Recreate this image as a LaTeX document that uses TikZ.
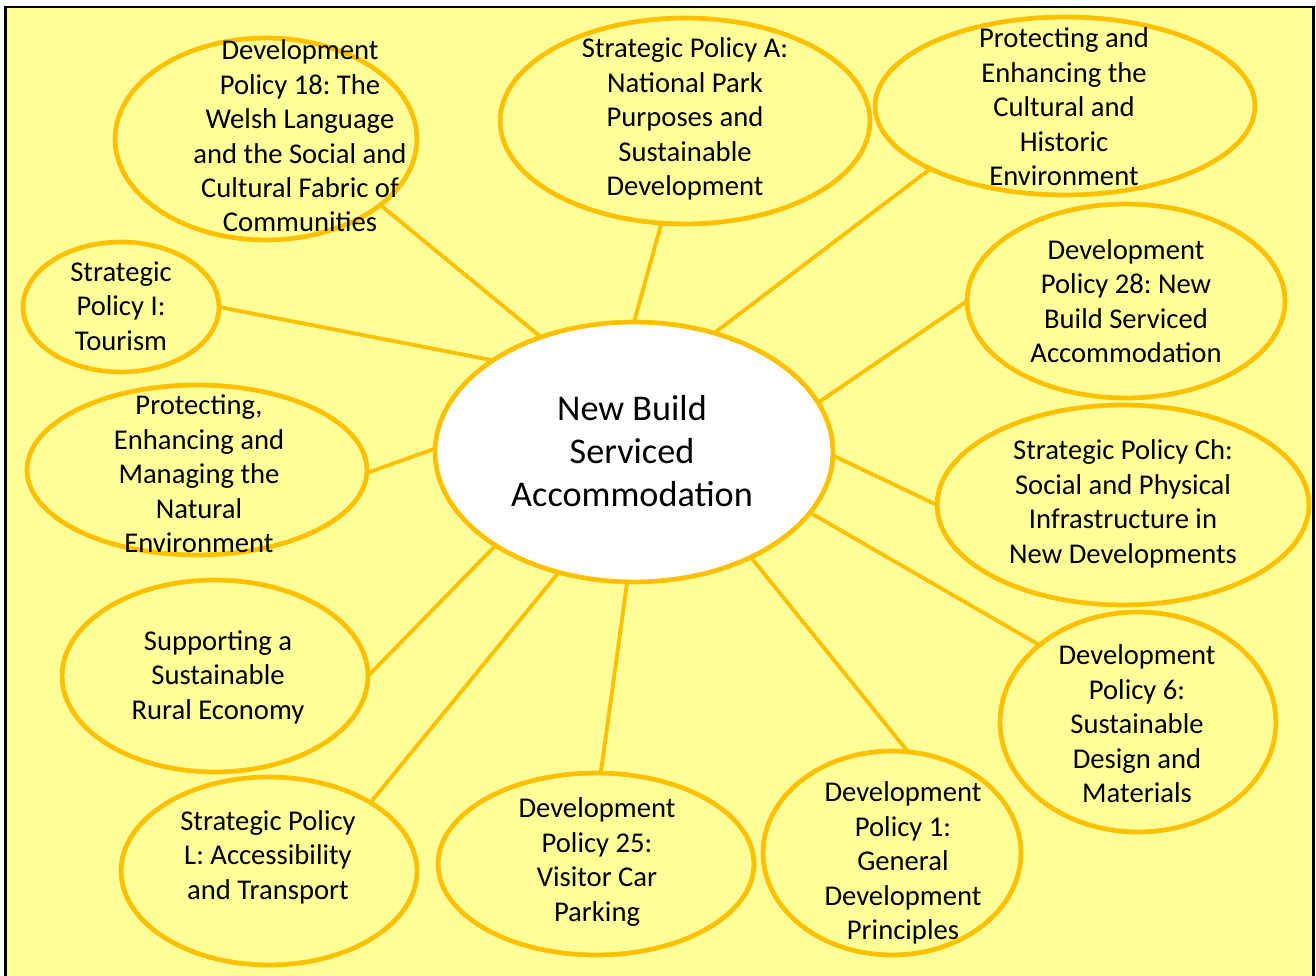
\documentclass[tikz,border=0pt]{standalone}
\usepackage{fontspec}
\setmainfont{Carlito}
\frenchspacing
\usetikzlibrary{shapes.geometric}
\definecolor{paper}{HTML}{FFFF99}
\definecolor{rim}{HTML}{FFC000}
\tikzset{
  bubble/.style={ellipse,draw=rim,line width=2.7pt,fill=paper,inner sep=0pt,outer sep=0pt},
  radii/.style 2 args={minimum width=#1*0.04cm,minimum height=#2*0.04cm},
  txt/.style={align=center,inner sep=0pt,font=\fontsize{16.3}{19.6}\selectfont},
  spoke/.style={draw=rim,line width=2.2pt},
}
\begin{document}
\begin{tikzpicture}[x=0.02cm,y=-0.02cm]
\useasboundingbox (0,0) rectangle (1316,976);
\fill[white] (0,0) rectangle (1316,976);
\filldraw[fill=paper,draw=black,line width=1.6pt] (5.5,7) rectangle (1313.5,1000);

% hub
\node[bubble,radii={199}{130},fill=white] (hub) at (634,452) {};
\node[txt,font=\fontsize{20.6}{24.6}\selectfont] (hubt) at (632,451) {New Build\\Serviced\\Accommodation};

% policies round the hub
\node[bubble,radii={151}{101}] (dp18) at (266,139) {};
\node[txt] (dp18t) at (300,136) {Development\\Policy 18: The\\Welsh Language\\and the Social and\\Cultural Fabric of\\Communities};

\node[bubble,radii={185}{103}] (spa) at (685,121) {};
\node[txt] (spat) at (685,119) {Strategic Policy A:\\National Park\\Purposes and\\Sustainable\\Development};

\node[bubble,radii={190}{89}] (heritage) at (1065,106) {};
\node[txt] (heritaget) at (1064,107) {Protecting and\\Enhancing the\\Cultural and\\Historic\\Environment};

\node[bubble,radii={98}{65}] (spi) at (121,307) {};
\node[txt] (spit) at (121,306) {Strategic\\Policy I:\\Tourism};

\node[bubble,radii={159}{97}] (dp28) at (1126,301) {};
\node[txt] (dp28t) at (1126,301) {Development\\Policy 28: New\\Build Serviced\\Accommodation};

\node[bubble,radii={170}{85}] (nature) at (197,470) {};
\node[txt] (naturet) at (199,474) {Protecting,\\Enhancing and\\Managing the\\Natural\\Environment};

\node[bubble,radii={186}{100}] (spch) at (1123,505) {};
\node[txt] (spcht) at (1123,504) {Strategic Policy Ch:\\Social and Physical\\Infrastructure in\\New Developments};

\node[bubble,radii={153}{96}] (rural) at (215,676) {};
\node[txt] (ruralt) at (218,677) {Supporting a\\Sustainable\\Rural Economy};

\node[bubble,radii={138}{110}] (dp6) at (1138,722) {};
\node[txt] (dp6t) at (1137,724) {Development\\Policy 6:\\Sustainable\\Design and\\Materials};

\node[bubble,radii={148}{94}] (spl) at (269,871) {};
\node[txt] (splt) at (268,857) {Strategic Policy\\L: Accessibility\\and Transport};

\node[bubble,radii={158}{91}] (dp25) at (596,864) {};
\node[txt] (dp25t) at (597,862) {Development\\Policy 25:\\Visitor Car\\Parking};

\node[bubble,radii={129}{102}] (dp1) at (892,853) {};
\node[txt] (dp1t) at (903,863) {Development\\Policy 1:\\General\\Development\\Principles};

% spokes
\draw[spoke] (hub.129) -- (dp18.-30);
\draw[spoke] (hub.90) -- (spa.-103);
\draw[spoke] (hub.56) -- (heritage.-155);
\draw[spoke] (hub.147) -- (spi.0);
\draw[spoke] (hub.15) -- (dp28.180);
\draw[spoke] (hub.179) -- (nature.-1);
\draw[spoke] (hub.-1) -- (spch.180);
\draw[spoke] (hub.214) -- (rural.0);
\draw[spoke] (hub.-19) -- (dp6.142);
\draw[spoke] (hub.238) -- (spl.34);
\draw[spoke] (hub.-93) -- (dp25.87);
\draw[spoke] (hub.-42) -- (dp1.81);
\end{tikzpicture}
\end{document}
